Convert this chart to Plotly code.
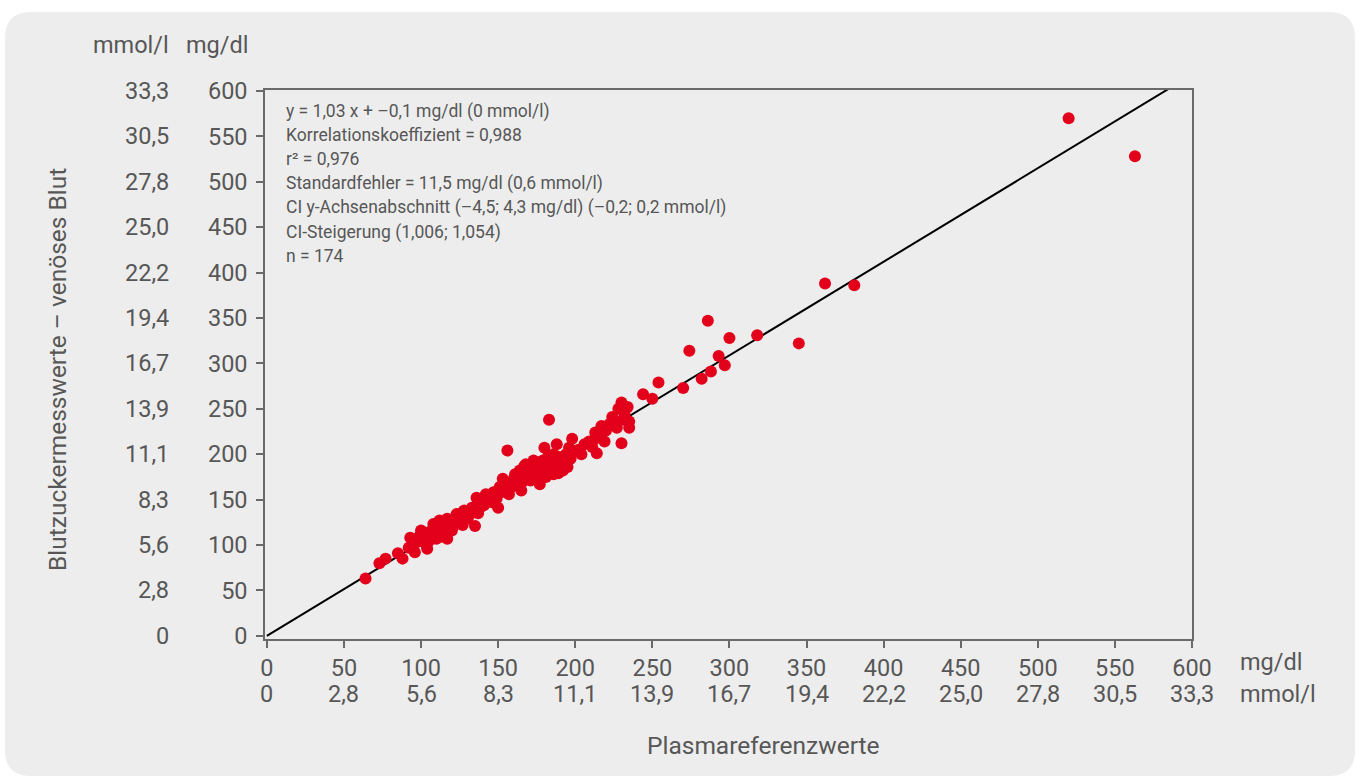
import plotly.graph_objects as go

# ---------------- data (mg/dl) ----------------
ref_mgdl = [
    520, 563, 362, 381, 345, 318, 300, 286, 274, 293, 297, 288, 282, 270, 254, 244, 250,
    230, 234, 228, 224, 231, 235, 235, 227, 217, 213, 213, 219, 230, 204, 214,
    183, 198, 188, 180, 196, 194, 186, 173, 168, 197, 195, 188, 181, 177, 168, 186, 190,
    184, 181, 189, 192, 194, 164, 171, 177, 165, 161, 153, 164, 167, 157, 151, 147, 142,
    136, 150, 156, 135, 133, 128, 123, 130, 117, 112, 108, 100, 93, 121, 117, 110, 112,
    107, 109, 103, 104, 97, 96, 92, 88, 85, 77, 73, 64, 127,
    95, 98, 99, 101, 102, 104, 105, 106, 108, 109, 110, 111, 113, 114, 115, 116, 118,
    119, 120, 121, 122, 124, 125, 126, 127, 129, 131, 132, 134, 136, 137, 138, 139, 140, 141,
    143, 145, 146, 148, 149, 152, 154, 155, 156, 158, 159, 160, 162, 163, 165, 166, 168,
    169, 170, 172, 173, 174, 175, 176, 178, 179, 180, 182, 183, 185, 187, 189, 191, 193, 199,
    202, 206, 209, 211, 216, 220, 222, 226, 232,
]
meter_mgdl = [
    570, 528, 388, 386, 322, 331, 328, 347, 314, 308, 298, 291, 283, 273, 279, 266, 261,
    257, 252, 250, 241, 238, 236, 229, 229, 231, 224, 217, 214, 212, 200, 201,
    238, 217, 211, 207, 207, 197, 200, 193, 189, 195, 186, 186, 191, 182, 180, 178, 197,
    180, 175, 179, 182, 200, 182, 171, 167, 160, 178, 173, 171, 187, 156, 164, 158, 156,
    152, 141, 204, 121, 141, 138, 134, 129, 129, 127, 123, 116, 108, 121, 107, 107, 114,
    108, 121, 101, 96, 103, 92, 97, 85, 91, 85, 80, 63, 136,
    99, 104, 110, 105, 109, 112, 104, 115, 110, 117, 112, 118, 109, 120, 116, 124, 118,
    125, 116, 127, 129, 125, 131, 128, 122, 133, 132, 136, 138, 140, 135, 145, 142, 148, 144,
    149, 152, 147, 155, 151, 158, 160, 165, 162, 168, 164, 172, 167, 175, 177, 170, 174,
    184, 178, 180, 186, 176, 184, 189, 186, 193, 184, 196, 189, 192, 195, 189, 193, 191, 203,
    205, 211, 214, 208, 220, 226, 233, 234, 244,
]

reg_slope = 1.03
reg_intercept = -0.1

tick_mgdl = [0, 50, 100, 150, 200, 250, 300, 350, 400, 450, 500, 550, 600]
tick_mmol = ["0", "2,8", "5,6", "8,3", "11,1", "13,9", "16,7", "19,4",
             "22,2", "25,0", "27,8", "30,5", "33,3"]

stats_lines = [
    "y = 1,03 x + \u20130,1 mg/dl (0 mmol/l)",
    "Korrelationskoeffizient = 0,988",
    "r\u00b2 = 0,976",
    "Standardfehler = 11,5 mg/dl (0,6 mmol/l)",
    "CI y-Achsenabschnitt (\u20134,5; 4,3 mg/dl) (\u20130,2; 0,2 mmol/l)",
    "CI-Steigerung (1,006; 1,054)",
    "n = 174",
]

x_title = "Plasmareferenzwerte"
y_title = "Blutzuckermesswerte \u2013 venöses Blut"

# ---------------- layout geometry ----------------
W, H = 1360, 778
ML, MR, MT, MB = 265, 168, 90, 139
PW = W - ML - MR
PH = H - MT - MB

def px(xp):
    return (xp - ML) / PW

def py(yp):
    return (H - MB - yp) / PH

TXT = "#575757"
FONT = "Roboto, 'Liberation Sans', sans-serif"
BG = "#ededed"
TICK_SIZE = 23.5
TITLE_SIZE = 24.5

fig = go.Figure()

fig.add_trace(go.Scatter(
    x=[0, 600], y=[reg_intercept, reg_slope * 600 + reg_intercept],
    mode="lines", line=dict(color="#000000", width=2), hoverinfo="skip",
    showlegend=False,
))
fig.add_trace(go.Scatter(
    x=ref_mgdl, y=meter_mgdl, mode="markers",
    marker=dict(color="#e2001a", size=12, line=dict(width=0)),
    showlegend=False,
))

# rounded background panel
x0, x1, y0, y1, r = 5, 1355, 12, 776, 26
rx, ry = r / PW, r / PH
X0, X1, Y0, Y1 = px(x0), px(x1), py(y0), py(y1)
path = (f"M {X0+rx},{Y0} L {X1-rx},{Y0} Q {X1},{Y0} {X1},{Y0-ry} "
        f"L {X1},{Y1+ry} Q {X1},{Y1} {X1-rx},{Y1} "
        f"L {X0+rx},{Y1} Q {X0},{Y1} {X0},{Y1+ry} "
        f"L {X0},{Y0-ry} Q {X0},{Y0} {X0+rx},{Y0} Z")
fig.add_shape(type="path", path=path, xref="paper", yref="paper",
              fillcolor=BG, line=dict(width=0), layer="below")

ann = []
# second row of x tick labels (mmol/l)
for v, t in zip(tick_mgdl, tick_mmol):
    ann.append(dict(x=v, y=py(694), xref="x", yref="paper", text=t,
                    showarrow=False, xanchor="center", yanchor="middle",
                    font=dict(size=TICK_SIZE, color=TXT, family=FONT)))
# mmol/l column on y axis
for v, t in zip(tick_mgdl, tick_mmol):
    ann.append(dict(x=px(171), y=v, xref="paper", yref="y", text=t,
                    showarrow=False, xanchor="right", yanchor="middle",
                    font=dict(size=TICK_SIZE, color=TXT, family=FONT)))
# unit headers and titles
extra = [
    dict(x=px(171), y=py(45), text="mmol/l", xanchor="right", s=TICK_SIZE),
    dict(x=px(250), y=py(45), text="mg/dl", xanchor="right", s=TICK_SIZE),
    dict(x=px(1238), y=py(662), text="mg/dl", xanchor="left", s=TICK_SIZE),
    dict(x=px(1238), y=py(694), text="mmol/l", xanchor="left", s=TICK_SIZE),
    dict(x=px(763), y=py(745), text=x_title, xanchor="center", s=TITLE_SIZE),
    dict(x=px(57), y=py(370), text=y_title, xanchor="center", textangle=-90, s=TITLE_SIZE),
]
for a in extra:
    s = a.pop("s")
    a.update(xref="paper", yref="paper", showarrow=False, yanchor="middle",
             font=dict(size=s, color=TXT, family=FONT))
    ann.append(a)
# stats text
for i, line in enumerate(stats_lines):
    ann.append(dict(x=px(284), y=py(111 + i * 24.2), xref="paper", yref="paper",
                    text=line, showarrow=False, xanchor="left", yanchor="middle",
                    font=dict(size=17.5, color=TXT, family=FONT)))

axis_common = dict(
    showgrid=False, zeroline=False, showline=True, linecolor="#6a6a6a",
    linewidth=1.5, mirror=True, ticks="outside", ticklen=7, tickwidth=1.5,
    tickcolor="#6a6a6a", tickfont=dict(size=TICK_SIZE, color=TXT, family=FONT),
    tickvals=tick_mgdl, ticktext=[str(v) for v in tick_mgdl],
)

fig.update_layout(
    width=W, height=H,
    margin=dict(l=ML, r=MR, t=MT, b=MB, pad=0),
    paper_bgcolor="#ffffff", plot_bgcolor="rgba(0,0,0,0)",
    xaxis=dict(range=[-1.2, 600], **axis_common),
    yaxis=dict(range=[-3.5, 601], ticklabelstandoff=4, **axis_common),
    annotations=ann,
    showlegend=False,
)

fig.write_html("out.html")
